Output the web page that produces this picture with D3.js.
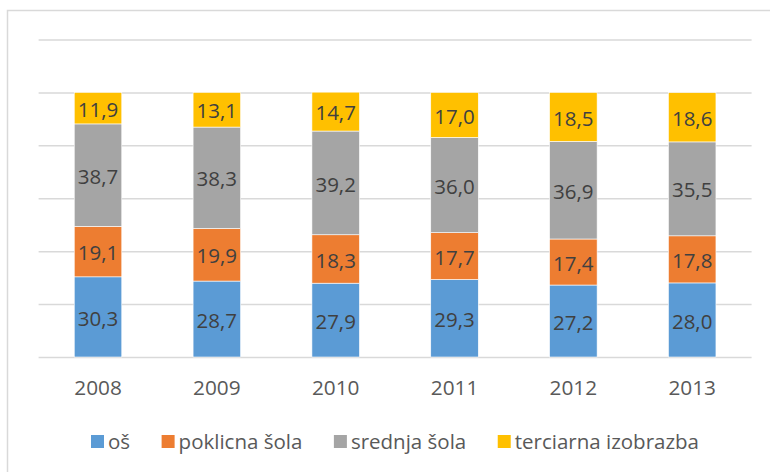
<!DOCTYPE html>
<html>
<head>
<meta charset="utf-8">
<script src="https://cdn.jsdelivr.net/npm/d3@7"></script>
<style>
    html, body { margin: 0; padding: 0; background: #fff; }
    #chart { width: 770px; height: 472px; }
    text { font-family: 'Open Sans', 'Noto Sans', sans-serif; }
</style>
</head>
<body>
<div id="chart"></div>
<script>
const YEARS = ['2008', '2009', '2010', '2011', '2012', '2013'];
const SERIES = ['oš', 'poklicna šola', 'srednja šola', 'terciarna izobrazba'];
const OS = [30.3, 28.7, 27.9, 29.3, 27.2, 28.0];
const POKLICNA = [19.1, 19.9, 18.3, 17.7, 17.4, 17.8];
const SREDNJA = [38.7, 38.3, 39.2, 36.0, 36.9, 35.5];
const TERCIARNA = [11.9, 13.1, 14.7, 17.0, 18.5, 18.6];
const Y_TICKS = [0, 20, 40, 60, 80, 100, 120];
const COLORS = ['#5b9bd5', '#ed7d31', '#a5a5a5', '#ffc000'];

(function () {
    'use strict';

    const W = 770, H = 472;
    const margin = { top: 39.5, right: 18.4, bottom: 115, left: 38.6 };
    const width = W - margin.left - margin.right;
    const height = H - margin.top - margin.bottom;

    const svg = d3.select('#chart').append('svg')
        .attr('width', W).attr('height', H);

    svg.append('rect').attr('width', W).attr('height', H).attr('fill', '#fff');

    // chart frame (right and bottom edges fall outside the picture)
    svg.append('rect')
        .attr('x', 7.5).attr('y', 10.5)
        .attr('width', W + 10).attr('height', H + 10)
        .attr('fill', 'none').attr('stroke', '#d9d9d9').attr('stroke-width', 1.5);

    const g = svg.append('g').attr('transform', 'translate(' + margin.left + ',' + margin.top + ')');

    const table = YEARS.map(function (y, i) {
        return { year: y, 'oš': OS[i], 'poklicna šola': POKLICNA[i], 'srednja šola': SREDNJA[i], 'terciarna izobrazba': TERCIARNA[i] };
    });
    const stacked = d3.stack().keys(SERIES)(table);

    const xScale = d3.scaleBand().domain(YEARS).range([0, width]).paddingInner(0.6).paddingOuter(0.3);
    const yScale = d3.scaleLinear().domain([0, 120]).range([height, 0]);
    const color = d3.scaleOrdinal().domain(SERIES).range(COLORS);

    // gridlines
    g.append('g').attr('class', 'grid')
        .call(d3.axisLeft(yScale).tickValues(Y_TICKS).tickSize(-width).tickFormat(''))
        .call(function (s) { s.select('.domain').remove(); })
        .selectAll('line').attr('stroke', '#d9d9d9').attr('stroke-width', 1.5);

    // x axis labels
    g.append('g').attr('transform', 'translate(0,' + height + ')')
        .call(d3.axisBottom(xScale).tickSize(0).tickPadding(0))
        .call(function (s) { s.select('.domain').remove(); })
        .selectAll('text')
        .attr('y', 38).attr('dy', 0)
        .attr('fill', '#595959').style('font-size', '20.8px');

    const layers = g.selectAll('.layer').data(stacked).enter().append('g')
        .attr('class', 'layer')
        .attr('fill', function (d) { return color(d.key); });

    layers.selectAll('rect').data(function (d) { return d; }).enter().append('rect')
        .attr('x', function (d) { return xScale(d.data.year); })
        .attr('y', function (d) { return yScale(d[1]); })
        .attr('height', function (d) { return yScale(d[0]) - yScale(d[1]); })
        .attr('width', xScale.bandwidth())
        .attr('stroke', '#fff').attr('stroke-width', 0.6);

    layers.selectAll('text').data(function (d) { return d; }).enter().append('text')
        .attr('x', function (d) { return xScale(d.data.year) + xScale.bandwidth() / 2; })
        .attr('y', function (d) { return (yScale(d[0]) + yScale(d[1])) / 2; })
        .attr('dy', '0.42em')
        .attr('text-anchor', 'middle')
        .attr('fill', '#404040')
        .style('font-size', '20.5px')
        .text(function (d) { return d3.format('.1f')(d[1] - d[0]).replace('.', ','); });

    // legend
    const legend = svg.append('g').attr('transform', 'translate(91,441.5)');
    let offset = 0;
    SERIES.forEach(function (s) {
        const item = legend.append('g').attr('transform', 'translate(' + offset + ',0)');
        item.append('rect').attr('x', 0).attr('y', -6.5).attr('width', 13).attr('height', 13)
            .attr('fill', color(s));
        const t = item.append('text').attr('x', 17).attr('dy', '0.36em')
            .attr('fill', '#595959').style('font-size', '20.5px').text(s);
        offset += 17 + t.node().getComputedTextLength() + 31.5;
    });
}());
</script>
</body>
</html>
